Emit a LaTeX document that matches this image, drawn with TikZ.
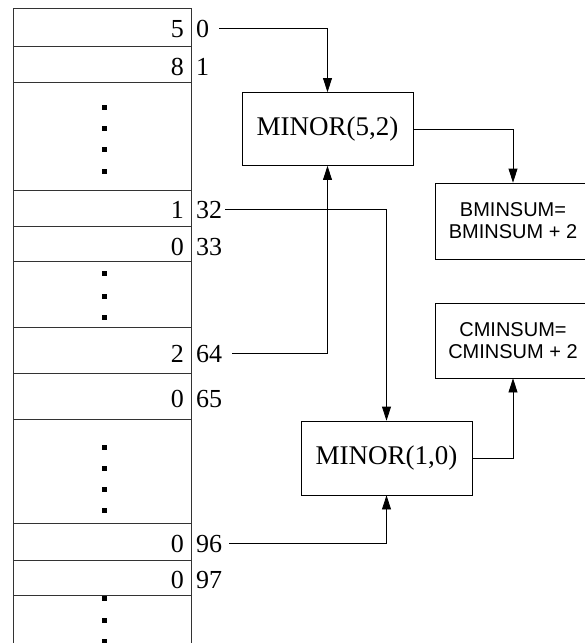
\documentclass[tikz,border=0pt]{standalone}
\usepackage{fontspec}
\setmainfont{Liberation Serif}
\newfontfamily\sansf{Liberation Sans}
\usetikzlibrary{arrows.meta}
\begin{document}
\begin{tikzpicture}[x=1pt,y=-1pt,
  memline/.style={line width=1pt,draw=black!80},
  val/.style={anchor=base east,inner sep=0pt,font=\fontsize{26}{30}\selectfont},
  addr/.style={anchor=base west,inner sep=0pt,font=\fontsize{26}{30}\selectfont},
  fbox/.style={draw,line width=0.8pt,fill=white,minimum width=171pt,minimum height=73pt,inner sep=0pt,font=\fontsize{27}{30}\selectfont},
  sbox/.style={draw,line width=0.8pt,fill=white,minimum width=156pt,minimum height=76pt,inner sep=0pt,align=center,font=\sansf\fontsize{20}{22}\selectfont},
  conn/.style={draw,line width=0.8pt,-{Triangle[length=14pt,width=9pt]}}]
\useasboundingbox (0,0) rectangle (585,643);
\clip (0,0) rectangle (585,643);
% memory column
\draw[memline] (13,8) -- (13,650);
\draw[memline] (191,8) -- (191,650);
\foreach \y in {8,46,82,190,226,261,327,373,419,523,560,595}
  \draw[memline] (13,\y) -- (191,\y);
% dots
\foreach \y in {107,128,149,171,273,296,317,447,468,489,510,598,620,641}
  \fill (101.5,\y-2.5) rectangle ++(5,5);
% values
\node[val] (v0) at (184,37) {5};
\node[val] (v1) at (184,75) {8};
\node[val] (v32) at (184,218) {1};
\node[val] (v33) at (184,255) {0};
\node[val] (v64) at (184,362) {2};
\node[val] (v65) at (184,407) {0};
\node[val] (v96) at (184,552) {0};
\node[val] (v97) at (184,588) {0};
% addresses
\node[addr] (a0) at (196,37) {0};
\node[addr] (a1) at (196,75) {1};
\node[addr] (a32) at (196,218) {32};
\node[addr] (a33) at (196,255) {33};
\node[addr] (a64) at (196,362) {64};
\node[addr] (a65) at (196,407) {65};
\node[addr] (a96) at (196,552) {96};
\node[addr] (a97) at (196,588) {97};
% boxes
\node[fbox] (m52) at (327.5,129) {MINOR(5,2)};
\node[fbox,minimum height=74pt] (m10) at (386.5,458) {MINOR(1,0)};
\node[sbox] (bmin) at (513,221) {BMINSUM=\\BMINSUM + 2};
\node[sbox,minimum height=75pt] (cmin) at (513,340.5) {CMINSUM=\\CMINSUM + 2};
% connectors
\draw[conn] ([xshift=10pt]a0.east) -| (m52.north);
\draw[conn] ([xshift=3pt]a32.east) -| (m10.north);
\draw[conn] ([xshift=10pt]a64.east) -| (m52.south);
\draw[conn] ([xshift=7pt]a96.east) -| (m10.south);
\draw[conn] (m52.east) -| (bmin.north);
\draw[conn] (m10.east) -| (cmin.south);
\end{tikzpicture}
\end{document}
